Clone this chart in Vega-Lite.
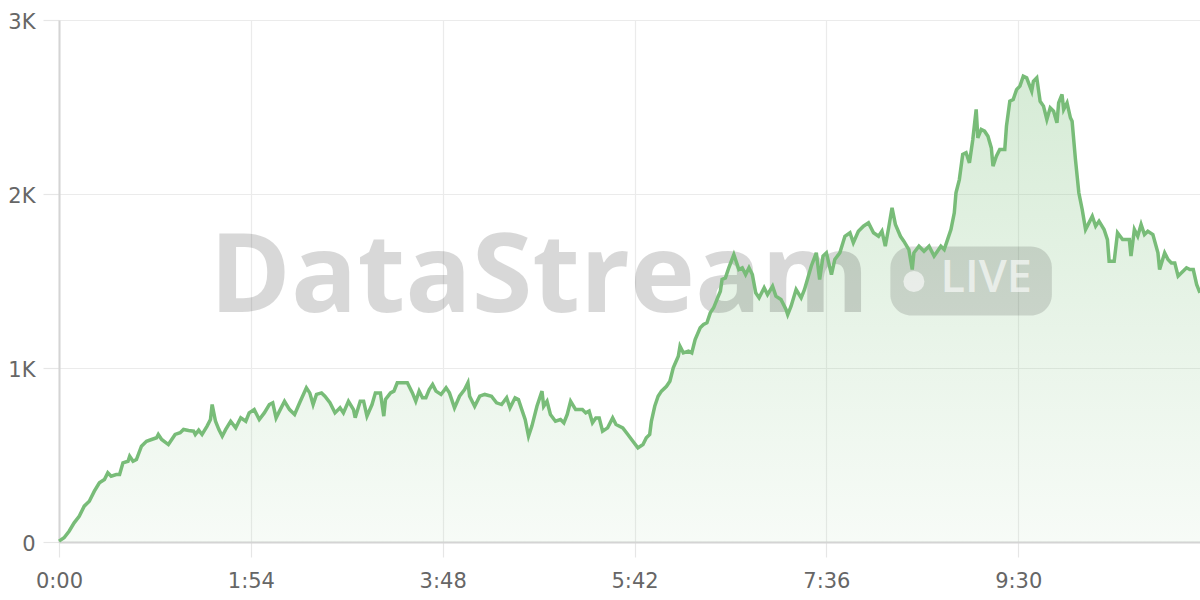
{
  "$schema": "https://vega.github.io/schema/vega-lite/v6.json",
  "width": 1141,
  "height": 522,
  "autosize": {"type": "none"},
  "padding": {"left": 59, "top": 20, "right": 0, "bottom": 58},
  "background": "#ffffff",
  "config": {
    "view": {"stroke": null},
    "axis": {
      "labelFont": "DejaVu Sans",
      "labelFontSize": 21,
      "labelColor": "#666666",
      "labelFlush": false,
      "gridColor": "#ebebeb",
      "gridWidth": 1.2,
      "tickColor": "#e6e6e6",
      "tickWidth": 1.2,
      "domainColor": "#d4d4d4",
      "domainWidth": 2,
      "title": null
    }
  },
  "datasets": {
    "series": [
      {"t":0,"v":5},{"t":3,"v":24},{"t":6,"v":62},{"t":9,"v":110},{"t":12,"v":148},{"t":15,"v":206},{"t":18,"v":234},{"t":21,"v":292},{"t":24,"v":340},{"t":27,"v":359},{"t":29,"v":398},{"t":31,"v":378},{"t":34,"v":388},{"t":36,"v":388},{"t":38,"v":455},{"t":41,"v":464},{"t":42,"v":493},{"t":44,"v":464},{"t":46,"v":474},{"t":49,"v":551},{"t":52,"v":579},{"t":55,"v":589},{"t":58,"v":599},{"t":59,"v":618},{"t":61,"v":589},{"t":65,"v":560},{"t":67,"v":589},{"t":69,"v":618},{"t":72,"v":628},{"t":74,"v":647},{"t":77,"v":641},{"t":80,"v":637},{"t":81,"v":618},{"t":83,"v":643},{"t":85,"v":618},{"t":88,"v":666},{"t":90,"v":704},{"t":91,"v":790},{"t":93,"v":694},{"t":95,"v":646},{"t":97,"v":608},{"t":99,"v":646},{"t":102,"v":694},{"t":105,"v":656},{"t":108,"v":714},{"t":111,"v":694},{"t":113,"v":742},{"t":116,"v":761},{"t":119,"v":704},{"t":122,"v":742},{"t":125,"v":790},{"t":127,"v":800},{"t":129,"v":713},{"t":131,"v":752},{"t":134,"v":809},{"t":137,"v":761},{"t":140,"v":733},{"t":143,"v":800},{"t":147,"v":886},{"t":149,"v":857},{"t":151,"v":790},{"t":153,"v":848},{"t":156,"v":857},{"t":158,"v":838},{"t":161,"v":800},
      {"t":164,"v":742},{"t":167,"v":771},{"t":169,"v":742},{"t":172,"v":809},{"t":175,"v":761},{"t":176,"v":714},{"t":179,"v":809},{"t":181,"v":809},{"t":183,"v":723},{"t":186,"v":790},{"t":188,"v":857},{"t":191,"v":857},{"t":193,"v":723},{"t":194,"v":819},{"t":197,"v":857},{"t":199,"v":867},{"t":201,"v":915},{"t":205,"v":915},{"t":207,"v":915},{"t":210,"v":857},{"t":212,"v":809},{"t":214,"v":867},{"t":216,"v":829},{"t":218,"v":829},{"t":220,"v":876},{"t":222,"v":905},{"t":224,"v":867},{"t":227,"v":848},{"t":230,"v":886},{"t":232,"v":857},{"t":235,"v":771},{"t":238,"v":838},{"t":241,"v":876},{"t":243,"v":915},{"t":244,"v":838},{"t":247,"v":780},{"t":250,"v":838},{"t":253,"v":848},{"t":257,"v":838},{"t":260,"v":800},{"t":263,"v":790},{"t":266,"v":829},{"t":268,"v":771},{"t":271,"v":829},{"t":273,"v":819},{"t":275,"v":761},{"t":277,"v":704},{"t":279,"v":608},{"t":281,"v":666},{"t":284,"v":780},{"t":287,"v":867},{"t":288,"v":780},{"t":290,"v":809},{"t":292,"v":733},{"t":295,"v":694},{"t":298,"v":704},{"t":300,"v":685},{"t":302,"v":733},{"t":304,"v":809},{"t":307,"v":761},{"t":311,"v":761},{"t":313,"v":742},{"t":315,"v":752},{"t":317,"v":685},{"t":319,"v":713},{"t":321,"v":713},{"t":323,"v":637},{"t":326,"v":656},{"t":329,"v":713},{"t":331,"v":675},{"t":335,"v":656},{"t":338,"v":618},{"t":341,"v":579},{"t":344,"v":541},{"t":347,"v":560},{"t":349,"v":599},{"t":351,"v":618},{"t":352,"v":694},{"t":354,"v":780},{"t":356,"v":838},
      {"t":358,"v":867},{"t":361,"v":895},{"t":363,"v":924},{"t":365,"v":1001},{"t":368,"v":1068},{"t":369,"v":1125},{"t":371,"v":1087},{"t":374,"v":1097},{"t":376,"v":1087},{"t":378,"v":1164},{"t":381,"v":1231},{"t":383,"v":1250},{"t":385,"v":1260},{"t":387,"v":1317},{"t":389,"v":1346},{"t":391,"v":1394},{"t":393,"v":1441},{"t":394,"v":1509},{"t":396,"v":1518},{"t":398,"v":1576},{"t":401,"v":1652},{"t":404,"v":1566},{"t":406,"v":1576},{"t":408,"v":1537},{"t":410,"v":1576},{"t":412,"v":1537},{"t":414,"v":1432},{"t":416,"v":1403},{"t":419,"v":1461},{"t":421,"v":1422},{"t":424,"v":1470},{"t":426,"v":1413},{"t":429,"v":1394},{"t":432,"v":1336},{"t":433,"v":1307},{"t":435,"v":1355},{"t":438,"v":1451},{"t":441,"v":1403},{"t":443,"v":1451},{"t":447,"v":1585},{"t":450,"v":1662},{"t":452,"v":1509},{"t":454,"v":1643},{"t":456,"v":1662},{"t":459,"v":1537},{"t":461,"v":1624},{"t":464,"v":1662},{"t":467,"v":1757},{"t":470,"v":1777},{"t":472,"v":1720},{"t":475,"v":1786},{"t":478,"v":1815},{"t":481,"v":1834},{"t":484,"v":1777},{"t":487,"v":1757},{"t":489,"v":1786},{"t":491,"v":1700},{"t":493,"v":1806},{"t":495,"v":1921},{"t":497,"v":1825},{"t":500,"v":1757},
      {"t":502,"v":1729},{"t":505,"v":1681},{"t":507,"v":1566},{"t":508,"v":1662},{"t":511,"v":1700},{"t":514,"v":1671},{"t":517,"v":1700},{"t":520,"v":1643},{"t":522,"v":1671},{"t":524,"v":1700},{"t":526,"v":1681},{"t":528,"v":1738},{"t":530,"v":1796},{"t":532,"v":1892},{"t":533,"v":2007},{"t":535,"v":2083},{"t":537,"v":2227},{"t":539,"v":2237},{"t":541,"v":2179},{"t":543,"v":2313},{"t":545,"v":2486},{"t":546,"v":2323},{"t":548,"v":2371},{"t":550,"v":2361},{"t":552,"v":2332},{"t":554,"v":2265},{"t":555,"v":2160},{"t":557,"v":2217},{"t":559,"v":2256},{"t":562,"v":2256},{"t":563,"v":2390},{"t":565,"v":2533},{"t":567,"v":2543},{"t":569,"v":2600},{"t":571,"v":2620},{"t":573,"v":2677},{"t":575,"v":2668},{"t":578,"v":2591},{"t":579,"v":2648},{"t":581,"v":2668},{"t":583,"v":2533},{"t":585,"v":2505},{"t":587,"v":2428},{"t":589,"v":2495},{"t":591,"v":2476},{"t":593,"v":2409},{"t":594,"v":2524},{"t":596,"v":2572},{"t":597,"v":2486},{"t":599,"v":2524},{"t":601,"v":2438},{"t":602,"v":2418},{"t":604,"v":2198},{"t":606,"v":2007},{"t":608,"v":1911},{"t":610,"v":1796},{"t":612,"v":1834},{"t":614,"v":1872},{"t":616,"v":1815},{"t":618,"v":1844},{"t":621,"v":1796},{"t":623,"v":1738},{"t":624,"v":1614},{"t":627,"v":1614},{"t":629,"v":1777},{"t":632,"v":1738},{"t":636,"v":1738},{"t":637,"v":1643},{"t":639,"v":1796},{"t":641,"v":1757},{"t":643,"v":1825},{"t":645,"v":1767},{"t":647,"v":1786},{"t":650,"v":1767},{"t":653,"v":1662},{"t":654,"v":1566},{"t":657,"v":1662},{"t":659,"v":1624},{"t":661,"v":1604},{"t":663,"v":1604},{"t":665,"v":1528},{"t":667,"v":1547},{"t":670,"v":1576},{"t":672,"v":1566},{"t":674,"v":1566},{"t":676,"v":1480},{"t":678,"v":1432}
    ]
  },
  "layer": [
    {
      "data": {"name": "series"},
      "mark": {
        "type": "area",
        "line": false,
        "color": {
          "gradient": "linear",
          "x1": 0, "y1": 0, "x2": 0, "y2": 1,
          "stops": [
            {"offset": 0, "color": "rgba(120,190,120,0.30)"},
            {"offset": 1, "color": "rgba(120,190,120,0.06)"}
          ]
        }
      },
      "encoding": {
        "x": {
          "field": "t", "type": "quantitative",
          "scale": {"domain": [0, 678], "nice": false, "zero": false},
          "axis": {
            "values": [0, 114, 228, 342, 456, 570],
            "labelExpr": "floor(datum.value/60) + ':' + (datum.value % 60 < 10 ? '0' : '') + (datum.value % 60)",
            "tickSize": 15,
            "labelPadding": 13,
            "grid": true
          }
        },
        "y": {
          "field": "v", "type": "quantitative",
          "scale": {"domain": [0, 3000], "nice": false},
          "axis": {
            "values": [0, 1000, 2000, 3000],
            "labelExpr": "datum.value == 0 ? '0' : (datum.value / 1000) + 'K'",
            "tickSize": 16,
            "labelPadding": 8,
            "labelOffset": 2,
            "grid": true
          }
        }
      }
    },
    {
      "data": {"values": [{"label": "DataStream"}]},
      "mark": {"type": "text", "font": "Open Sans", "fontWeight": "bold", "fontSize": 110, "align": "center", "baseline": "alphabetic", "color": "#000000", "opacity": 0.15},
      "encoding": {
        "x": {"datum": 285.5, "type": "quantitative"},
        "y": {"datum": 1319, "type": "quantitative"},
        "text": {"field": "label"}
      }
    },
    {
      "data": {"values": [{"badge": "LIVE"}]},
      "mark": {"type": "rect", "cornerRadius": 21, "color": "#000000", "opacity": 0.13},
      "encoding": {
        "x": {"datum": 494, "type": "quantitative"},
        "x2": {"datum": 590},
        "y": {"datum": 1698, "type": "quantitative"},
        "y2": {"datum": 1302}
      }
    },
    {
      "data": {"values": [{"badge": "LIVE"}]},
      "mark": {"type": "point", "shape": "circle", "filled": true, "size": 440, "color": "#ffffff", "opacity": 0.6},
      "encoding": {
        "x": {"datum": 508, "type": "quantitative"},
        "y": {"datum": 1497, "type": "quantitative"}
      }
    },
    {
      "data": {"values": [{"badge": "LIVE"}]},
      "mark": {"type": "text", "font": "Open Sans", "fontWeight": 600, "fontSize": 45, "align": "center", "baseline": "alphabetic", "color": "#ffffff", "opacity": 0.6},
      "encoding": {
        "x": {"datum": 551, "type": "quantitative"},
        "y": {"datum": 1434, "type": "quantitative"},
        "text": {"field": "badge"}
      }
    },
    {
      "data": {"name": "series"},
      "mark": {"type": "line", "color": "#78bc78", "strokeWidth": 3.5},
      "encoding": {
        "x": {"field": "t", "type": "quantitative"},
        "y": {"field": "v", "type": "quantitative"}
      }
    }
  ]
}
